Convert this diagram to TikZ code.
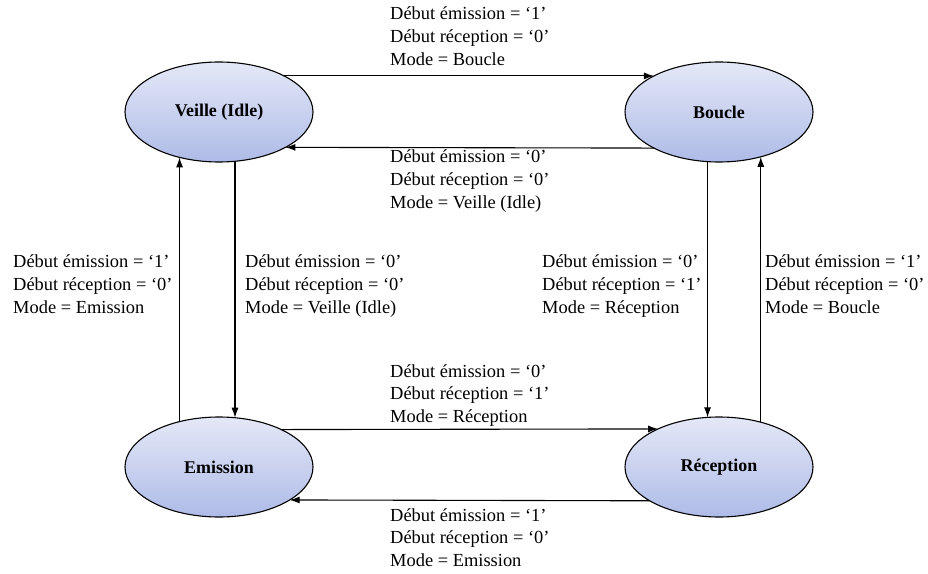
\documentclass[tikz,border=0pt]{standalone}
\usepackage{fontspec}
\setmainfont{Liberation Serif}
\usetikzlibrary{shapes.geometric,arrows.meta}
\definecolor{elltop}{HTML}{E4E8F7}
\definecolor{ellbot}{HTML}{AEBBE7}
\tikzset{
  state/.style={ellipse, draw=black, line width=1.1bp, top color=elltop, bottom color=ellbot,
    minimum width=188bp, minimum height=100bp, inner sep=2bp, outer sep=0pt,
    font=\fontsize{18}{22}\selectfont\bfseries},
  arr/.style={line width=1.1bp, -{Latex[length=10bp,width=7bp]}},
  cond/.style={anchor=base west, inner sep=0pt, font=\fontsize{18.5}{23}\selectfont}
}
\newcommand{\condtext}[3]{\begin{tabular}[t]{@{}l@{}}Début émission = ‘#1’\\Début réception = ‘#2’\\Mode = #3\end{tabular}}
\begin{document}
\begin{tikzpicture}[x=1bp,y=-1bp]
\useasboundingbox (0,0) rectangle (928,574);
% states
\node[state] (veille)    at (219,112) {Veille (Idle)};
\node[state] (boucle)    at (719,112) {Boucle};
\node[state] (emission)  at (219,467) {Emission};
\node[state] (reception) at (719,467) {Réception};
% transitions
\draw[arr] (veille.29) -- (boucle.151);
\draw[arr] (boucle.-151.8) -- (veille.-28.2);
\draw[arr] (emission.131.5) -- (veille.-131.5);
\draw[arr] (veille.-72) -- (emission.72);
\draw[arr] (boucle.-103.6) -- (reception.103.6);
\draw[arr] (reception.47.7) -- (boucle.-47.7);
\draw[arr] (emission.31.9) -- (reception.148.1);
\draw[arr] (reception.-154.9) -- (emission.-25.1);
% transition conditions
\node[cond] (c1) at (390,20)  {\condtext{1}{0}{Boucle}};
\node[cond] (c2) at (390,163) {\condtext{0}{0}{Veille (Idle)}};
\node[cond] (c3) at (13,268)  {\condtext{1}{0}{Emission}};
\node[cond] (c4) at (245,268) {\condtext{0}{0}{Veille (Idle)}};
\node[cond] (c5) at (542,268) {\condtext{0}{1}{Réception}};
\node[cond] (c6) at (765,268) {\condtext{1}{0}{Boucle}};
\node[cond] (c7) at (390,377) {\condtext{0}{1}{Réception}};
\node[cond] (c8) at (390,521) {\condtext{1}{0}{Emission}};
\end{tikzpicture}
\end{document}
